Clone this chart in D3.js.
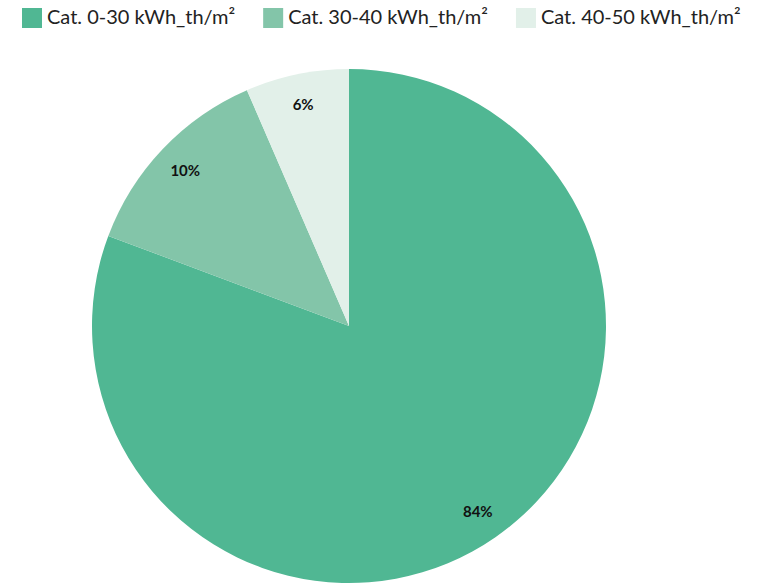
<!DOCTYPE html>
<html>
<head>
<meta charset="utf-8">
<script src="https://cdn.jsdelivr.net/npm/d3@7"></script>
<style>
  body { margin: 0; background: #fff; }
  text { font-family: "Lato", sans-serif; }
</style>
</head>
<body>
<div id="container"></div>
<script>
// data (slice sizes as drawn, labels as printed)
var categories = ["Cat. 0-30 kWh_th/m\u00B2", "Cat. 30-40 kWh_th/m\u00B2", "Cat. 40-50 kWh_th/m\u00B2"];
var values = [80.7, 12.8, 6.5];
var labels = ["84%", "10%", "6%"];
var colors = ["#50b793", "#83c5a9", "#e2f0e9"];

var width = 762, height = 584;
var cx = 349, cy = 326, radius = 257;

var svg = d3.select("#container").append("svg")
    .attr("width", width)
    .attr("height", height);

// legend
var legend = svg.append("g").attr("class", "legend");
var lx = 22;
categories.forEach(function(c, i) {
    var item = legend.append("g").attr("transform", "translate(" + lx + ",8)");
    item.append("rect")
        .attr("width", 20)
        .attr("height", 20)
        .attr("fill", colors[i]);
    var t = item.append("text")
        .attr("x", 25)
        .attr("y", 16)
        .style("font-size", "20px")
        .style("fill", "#222")
        .text(c);
    lx += 25 + t.node().getComputedTextLength() + 28;
});

// pie
var pie = d3.pie().sort(null).value(function(d) { return d; });
var arc = d3.arc().innerRadius(0).outerRadius(radius);
var labelArc = d3.arc().innerRadius(226).outerRadius(226);

var g = svg.append("g")
    .attr("transform", "translate(" + cx + "," + cy + ")");

var slices = g.selectAll(".slice")
    .data(pie(values))
    .enter().append("g")
    .attr("class", "slice");

slices.append("path")
    .attr("d", arc)
    .attr("fill", function(d, i) { return colors[i]; });

slices.append("text")
    .attr("transform", function(d) { return "translate(" + labelArc.centroid(d) + ")"; })
    .attr("dy", "0.35em")
    .style("text-anchor", "middle")
    .style("font-size", "15px")
    .style("font-weight", "bold")
    .style("fill", "#111")
    .text(function(d, i) { return labels[i]; });
</script>
</body>
</html>
